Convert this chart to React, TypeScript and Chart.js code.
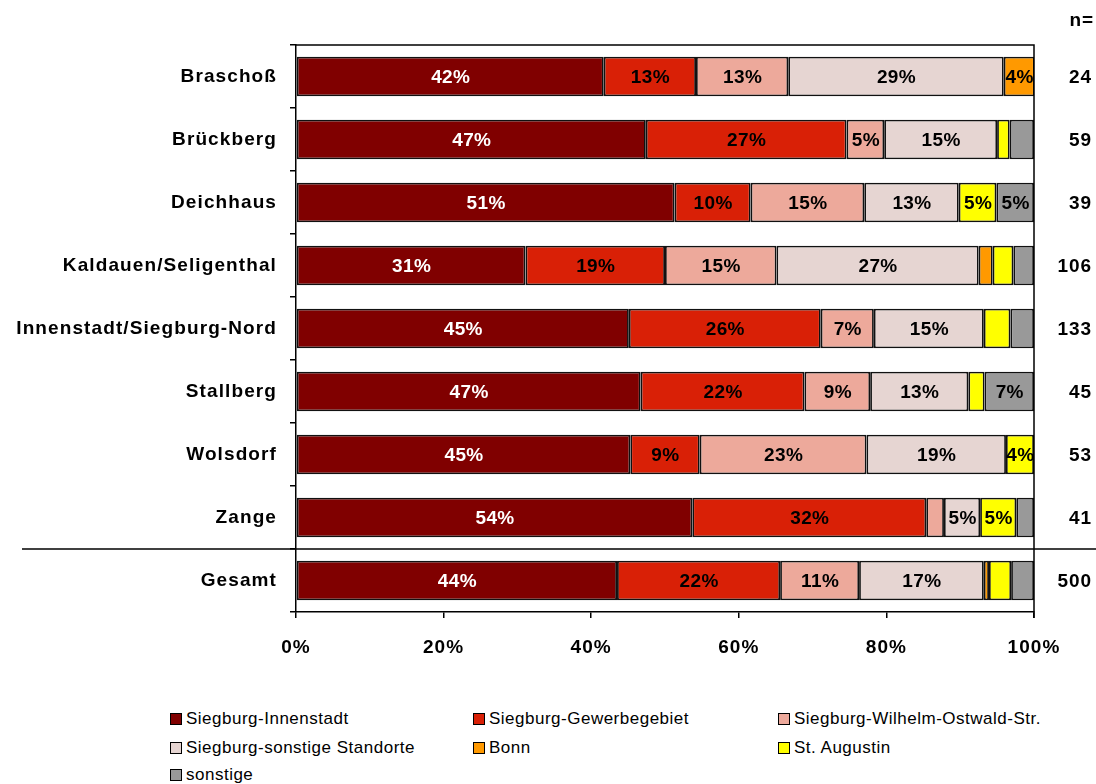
import React, { useEffect, useRef } from "react";
import { Chart, registerables } from "chart.js";

Chart.register(...registerables);

const categories = [
  "Braschoß",
  "Brückberg",
  "Deichhaus",
  "Kaldauen/Seligenthal",
  "Innenstadt/Siegburg-Nord",
  "Stallberg",
  "Wolsdorf",
  "Zange",
  "Gesamt",
];
const nValues = [24, 59, 39, 106, 133, 45, 53, 41, 500];

const innenstadt = [41.7, 47.4, 51.3, 31.1, 45.1, 46.7, 45.3, 53.7, 43.5];
const gewerbe = [12.5, 27.2, 10.3, 18.9, 26.0, 22.2, 9.4, 31.7, 22.1];
const wilhelm = [12.5, 5.1, 15.4, 15.1, 7.2, 8.9, 22.6, 2.4, 10.7];
const sonstStandorte = [29.2, 15.3, 12.8, 27.4, 14.9, 13.3, 18.9, 4.9, 16.9];
const bonn = [4.2, 0, 0, 1.9, 0, 0, 0, 0, 0.7];
const augustin = [0, 1.7, 5.1, 2.8, 3.6, 2.2, 3.8, 4.9, 3.0];
const sonstige = [0, 3.3, 5.1, 2.8, 3.2, 6.7, 0, 2.4, 3.1];

const xTicks = [0, 20, 40, 60, 80, 100];

const seriesNames = [
  "Siegburg-Innenstadt",
  "Siegburg-Gewerbegebiet",
  "Siegburg-Wilhelm-Ostwald-Str.",
  "Siegburg-sonstige Standorte",
  "Bonn",
  "St. Augustin",
  "sonstige",
];
const seriesColors = ["#800000", "#D92006", "#EDA99B", "#E6D5D2", "#FF9900", "#FFFF00", "#999999"];
const seriesData = [innenstadt, gewerbe, wilhelm, sonstStandorte, bonn, augustin, sonstige];

const FONT = "'Liberation Sans', Arial, sans-serif";
const LABEL_MIN = 3.7;

export default function App() {
  const ref = useRef<HTMLCanvasElement | null>(null);

  useEffect(() => {
    const canvas = ref.current;
    if (!canvas) return;

    const spacingPlugin = {
      id: "spacing",
      beforeDraw(chart: any) {
        chart.ctx.letterSpacing = "1.1px";
      },
    };

    const framePlugin = {
      id: "frame",
      afterDatasetsDraw(chart: any) {
        const { ctx, chartArea } = chart;
        const ys = chart.scales.y;
        ctx.save();
        ctx.strokeStyle = "#000";
        ctx.lineWidth = 1.5;
        ctx.beginPath();
        ctx.moveTo(chartArea.left, chartArea.top);
        ctx.lineTo(chartArea.right, chartArea.top);
        ctx.lineTo(chartArea.right, chartArea.bottom + 6);
        ctx.stroke();
        // separator between last district and total
        const sepY = (ys.getPixelForValue(categories.length - 2) + ys.getPixelForValue(categories.length - 1)) / 2;
        ctx.beginPath();
        ctx.moveTo(22, sepY);
        ctx.lineTo(chart.width, sepY);
        ctx.stroke();
        // n= column
        ctx.fillStyle = "#000";
        ctx.font = `bold 19px ${FONT}`;
        ctx.letterSpacing = "0.9px";
        ctx.textAlign = "right";
        ctx.textBaseline = "middle";
        ctx.fillText("n=", 1094, 21);
        nValues.forEach((n, i) => {
          ctx.fillText(String(n), 1092, ys.getPixelForValue(i) + 1);
        });
        // value labels
        ctx.font = `bold 19px ${FONT}`;
        ctx.letterSpacing = "0.4px";
        ctx.textAlign = "center";
        chart.data.datasets.forEach((ds: any, di: number) => {
          const meta = chart.getDatasetMeta(di);
          meta.data.forEach((el: any, j: number) => {
            const v = ds.data[j];
            if (v < LABEL_MIN) return;
            const cx = (el.x + el.base) / 2;
            ctx.fillStyle = di === 0 ? "#fff" : "#000";
            ctx.fillText(Math.round(v) + "%", cx + 0.5, el.y + 1);
          });
        });
        ctx.restore();
      },
    };

    const chart = new Chart(canvas, {
      type: "bar",
      data: {
        labels: categories,
        datasets: seriesNames.map((name, i) => ({
          label: name,
          data: seriesData[i],
          backgroundColor: seriesColors[i],
          borderColor: "#111",
          borderWidth: 1.8,
          borderSkipped: false,
          barPercentage: 0.63,
          categoryPercentage: 1,
        })),
      },
      options: {
        indexAxis: "y",
        responsive: false,
        animation: false,
        devicePixelRatio: 1,
        layout: { padding: { top: 45, left: 0, right: 62, bottom: 0 } },
        plugins: { legend: { display: false }, tooltip: { enabled: false } },
        scales: {
          x: {
            stacked: true,
            min: 0,
            max: 100,
            afterBuildTicks: (s: any) => {
              s.ticks = xTicks.map((v) => ({ value: v }));
            },
            afterFit: (s: any) => {
              s.height = 68;
            },
            ticks: {
              callback: (v: any) => v + "%",
              color: "#000",
              font: { family: FONT, size: 19, weight: "bold" },
              padding: 18,
              maxRotation: 0,
            },
            grid: { drawOnChartArea: false, color: "#000", tickLength: 6, lineWidth: 1.5 },
            border: { color: "#000", width: 1.5 },
          },
          y: {
            stacked: true,
            afterFit: (s: any) => {
              s.width = 296;
            },
            ticks: {
              color: "#000",
              font: { family: FONT, size: 19, weight: "bold" },
              padding: 13,
            },
            grid: { drawOnChartArea: false, color: "#000", tickLength: 6, offset: true, lineWidth: 1.5 },
            border: { color: "#000", width: 1.5 },
          },
        },
      },
      plugins: [spacingPlugin, framePlugin],
    });
    return () => chart.destroy();
  }, []);

  const legendPos = [
    [170, 719],
    [473, 719],
    [778, 719],
    [170, 748],
    [473, 748],
    [778, 748],
    [170, 775],
  ];

  return (
    <div style={{ position: "fixed", left: 0, top: 0, width: 1096, height: 784, background: "#fff", overflow: "hidden" }}>
      <canvas ref={ref} width={1096} height={680} style={{ width: 1096, height: 680, display: "block" }} />
      {seriesNames.map((name, i) => (
        <div
          key={name}
          style={{
            position: "absolute",
            left: legendPos[i][0],
            top: legendPos[i][1] - 12,
            height: 24,
            display: "flex",
            alignItems: "center",
            fontFamily: FONT,
            fontSize: 17,
            letterSpacing: "0.5px",
            whiteSpace: "nowrap",
            color: "#000",
          }}
        >
          <span
            style={{
              display: "inline-block",
              width: 10,
              height: 10,
              background: seriesColors[i],
              border: "1px solid #000",
              marginRight: 4,
            }}
          />
          {name}
        </div>
      ))}
    </div>
  );
}
